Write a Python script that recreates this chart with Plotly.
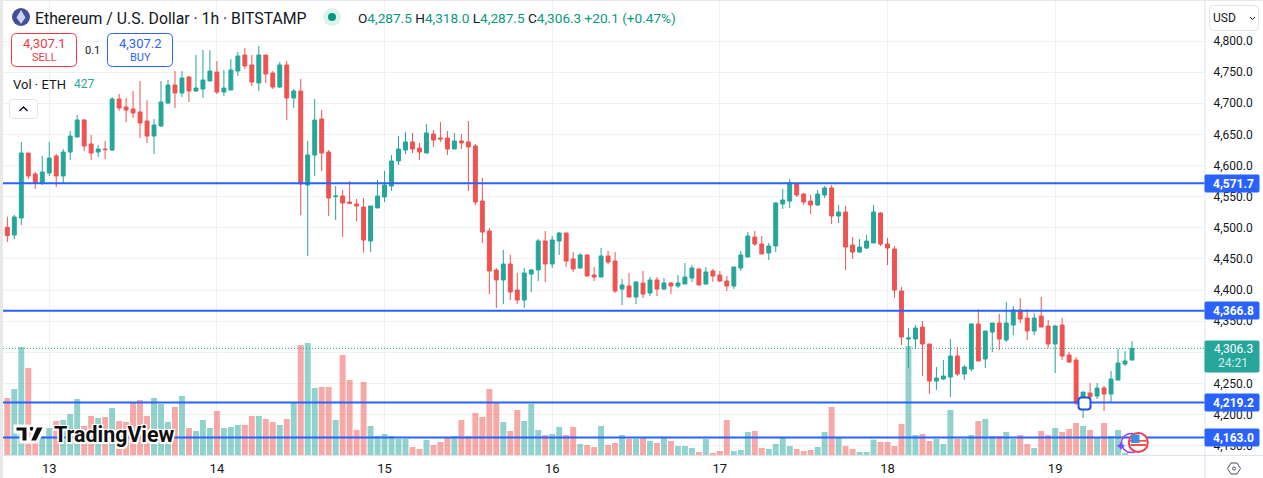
import pandas as pd
import plotly.graph_objects as go

# Hourly candles, first candle is 12 Aug 18:00
opens = [
    4500.7, 4488.4, 4515.7, 4620.1, 4586.4, 4572.4, 4588.0, 4615.3, 4583.2, 4621.7, 4645.8, 4673.1, 4634.6, 4621.7,
    4626.5, 4624.9, 4706.8, 4694.0, 4690.8, 4686.0, 4671.5, 4647.4, 4663.5, 4700.4, 4729.3, 4716.5, 4742.2, 4719.7,
    4722.9, 4735.8, 4750.2, 4718.1, 4721.3, 4751.8, 4777.5, 4761.5, 4732.6, 4777.5, 4748.6, 4726.1, 4761.5, 4708.5,
    4719.7, 4568.7, 4616.9, 4674.7, 4621.7, 4549.9, 4551.0, 4541.4, 4538.2, 4533.4, 4478.7, 4531.8, 4549.4, 4567.1,
    4607.3, 4624.9, 4637.8, 4628.1, 4620.1, 4650.6, 4644.2, 4644.2, 4626.5, 4639.4, 4637.8, 4631.4, 4543.0, 4494.8,
    4432.2, 4416.1, 4441.8, 4400.0, 4384.0, 4425.7, 4432.2, 4478.8, 4441.8, 4478.8, 4491.6, 4449.8, 4435.4, 4456.3,
    4424.1, 4420.9, 4454.7, 4446.6, 4401.6, 4406.5, 4388.8, 4411.3, 4395.2, 4416.1, 4401.6, 4411.3, 4406.5, 4409.7,
    4419.3, 4433.8, 4409.7, 4430.6, 4424.1, 4414.5, 4406.5, 4435.4, 4453.0, 4485.2, 4473.9, 4459.5, 4470.7, 4538.2,
    4543.0, 4570.3, 4554.2, 4543.0, 4536.6, 4552.6, 4563.9, 4518.9, 4525.3, 4472.3, 4461.1, 4467.5, 4475.5, 4523.7,
    4473.9, 4465.9, 4398.4, 4321.3, 4321.3, 4340.6, 4313.3, 4253.8, 4257.0, 4260.2, 4294.0, 4265.1, 4273.1, 4345.4,
    4289.2, 4332.5, 4347.0, 4319.7, 4343.8, 4367.9, 4355.0, 4334.2, 4358.2, 4342.2, 4313.3, 4343.8, 4295.6, 4287.6,
    4218.5, 4234.6, 4229.7, 4242.6, 4232.9, 4255.4, 4281.1, 4287.5,
]
highs = [
    4517.8, 4520.5, 4637.8, 4620.1, 4589.6, 4615.3, 4637.8, 4618.5, 4626.5, 4655.4, 4681.2, 4674.7, 4649.0, 4633.0,
    4639.4, 4710.1, 4714.9, 4708.5, 4719.7, 4735.8, 4705.2, 4674.7, 4735.8, 4737.4, 4751.8, 4751.8, 4743.8, 4777.5,
    4785.6, 4785.6, 4767.9, 4753.4, 4771.1, 4782.4, 4788.8, 4777.5, 4792.0, 4777.5, 4751.8, 4766.3, 4767.9, 4722.9,
    4739.0, 4639.4, 4706.8, 4689.2, 4624.9, 4567.1, 4560.7, 4575.1, 4546.2, 4547.8, 4535.0, 4576.7, 4591.2, 4616.9,
    4647.4, 4653.8, 4652.2, 4636.2, 4666.7, 4657.1, 4669.9, 4655.5, 4652.3, 4650.6, 4671.5, 4634.6, 4580.0, 4499.6,
    4435.4, 4464.3, 4456.3, 4427.3, 4435.4, 4433.8, 4482.0, 4494.8, 4486.8, 4493.2, 4491.6, 4461.1, 4459.5, 4457.9,
    4437.0, 4467.5, 4462.7, 4461.1, 4417.7, 4427.3, 4414.5, 4430.6, 4420.9, 4420.9, 4419.3, 4412.9, 4424.1, 4443.4,
    4440.2, 4433.8, 4437.0, 4433.8, 4430.6, 4422.5, 4437.0, 4462.7, 4493.2, 4494.8, 4486.8, 4475.5, 4541.4, 4562.3,
    4578.4, 4570.3, 4555.9, 4552.6, 4560.7, 4567.1, 4568.7, 4536.6, 4535.0, 4485.2, 4481.9, 4488.4, 4536.6, 4525.3,
    4483.6, 4470.7, 4404.8, 4339.0, 4343.8, 4350.2, 4313.3, 4276.3, 4287.6, 4321.3, 4308.4, 4279.5, 4347.0, 4369.5,
    4334.2, 4347.0, 4361.5, 4380.7, 4374.3, 4387.2, 4369.5, 4363.1, 4388.8, 4351.8, 4343.8, 4355.0, 4300.4, 4292.4,
    4236.2, 4250.6, 4250.6, 4245.8, 4269.9, 4305.2, 4302.0, 4318.0,
]
lows = [
    4477.1, 4481.4, 4504.4, 4578.3, 4562.3, 4568.7, 4583.2, 4565.5, 4570.3, 4608.9, 4645.8, 4623.3, 4608.9, 4613.7,
    4610.5, 4623.3, 4687.6, 4669.9, 4676.3, 4644.2, 4636.2, 4618.5, 4661.9, 4698.8, 4692.4, 4710.1, 4702.0, 4718.1,
    4708.5, 4735.8, 4714.9, 4711.7, 4721.3, 4743.8, 4755.0, 4727.7, 4719.7, 4732.6, 4722.9, 4724.5, 4673.1, 4692.4,
    4520.5, 4454.6, 4583.2, 4591.2, 4518.9, 4512.5, 4485.2, 4538.2, 4510.9, 4460.0, 4461.1, 4531.8, 4541.4, 4559.1,
    4600.8, 4618.5, 4620.1, 4608.9, 4620.1, 4629.8, 4637.8, 4616.9, 4626.5, 4626.5, 4559.1, 4536.6, 4475.5, 4393.6,
    4371.1, 4377.5, 4384.0, 4377.5, 4371.1, 4396.8, 4414.5, 4412.9, 4435.4, 4456.3, 4437.0, 4429.0, 4433.8, 4422.5,
    4414.5, 4420.9, 4441.8, 4395.2, 4375.9, 4388.8, 4377.5, 4387.2, 4390.4, 4390.4, 4400.0, 4393.6, 4403.2, 4409.7,
    4412.9, 4408.1, 4408.1, 4412.9, 4412.9, 4398.4, 4401.6, 4430.6, 4453.0, 4470.7, 4457.9, 4448.2, 4461.1, 4530.2,
    4531.8, 4549.4, 4536.6, 4522.1, 4535.0, 4547.8, 4506.1, 4507.7, 4432.1, 4449.8, 4459.5, 4465.9, 4475.5, 4470.7,
    4440.2, 4387.2, 4311.7, 4274.7, 4305.2, 4261.9, 4232.9, 4239.4, 4255.4, 4228.1, 4261.9, 4255.4, 4269.9, 4286.0,
    4274.7, 4300.4, 4303.6, 4316.5, 4327.7, 4347.0, 4319.7, 4327.7, 4340.6, 4306.8, 4266.7, 4287.6, 4282.7, 4215.3,
    4194.4, 4223.3, 4224.9, 4205.6, 4220.1, 4255.4, 4277.9, 4287.5,
]
closes = [
    4487.3, 4517.3, 4620.1, 4583.2, 4572.4, 4589.6, 4612.1, 4583.2, 4621.7, 4647.4, 4673.1, 4631.3, 4620.1, 4626.5,
    4625.5, 4706.8, 4692.4, 4689.2, 4684.4, 4668.3, 4647.4, 4665.1, 4702.0, 4729.3, 4716.5, 4740.6, 4719.7, 4724.5,
    4737.4, 4751.8, 4718.1, 4724.5, 4753.4, 4775.9, 4759.9, 4734.2, 4777.5, 4747.0, 4726.1, 4761.5, 4708.5, 4719.7,
    4570.3, 4616.9, 4673.1, 4620.1, 4547.8, 4551.0, 4539.8, 4539.2, 4535.0, 4480.3, 4535.0, 4551.0, 4568.7, 4607.3,
    4626.5, 4637.8, 4626.5, 4621.7, 4652.3, 4641.0, 4642.6, 4626.5, 4639.4, 4636.2, 4629.8, 4541.4, 4493.2, 4430.6,
    4416.1, 4441.8, 4396.8, 4384.0, 4427.3, 4432.2, 4478.8, 4441.8, 4480.4, 4491.6, 4446.6, 4433.8, 4456.3, 4422.5,
    4420.9, 4454.7, 4445.0, 4398.4, 4408.1, 4388.8, 4412.9, 4393.6, 4416.1, 4401.6, 4411.3, 4406.5, 4411.3, 4420.9,
    4435.4, 4408.1, 4429.0, 4422.5, 4414.5, 4406.5, 4437.0, 4456.3, 4486.8, 4473.9, 4457.9, 4470.7, 4539.8, 4544.6,
    4571.9, 4552.6, 4541.4, 4536.6, 4554.2, 4563.9, 4518.9, 4525.3, 4469.1, 4461.1, 4469.1, 4478.7, 4525.3, 4473.9,
    4467.5, 4400.0, 4324.5, 4322.9, 4339.0, 4313.3, 4253.8, 4258.6, 4261.9, 4294.0, 4265.1, 4276.3, 4345.4, 4286.0,
    4334.2, 4347.0, 4321.3, 4347.0, 4367.9, 4353.4, 4334.2, 4355.0, 4340.6, 4313.3, 4342.2, 4294.0, 4284.4, 4218.5,
    4236.2, 4228.7, 4242.6, 4232.9, 4257.0, 4282.7, 4286.0, 4306.3,
]
volumes = [
    24360, 28140, 45780, 36960, 11900, 8400, 11760, 14700, 15120, 17640, 23940, 12600, 16800, 15960,
    16380, 20160, 14700, 14280, 22680, 23520, 16800, 24360, 21840, 14280, 20580, 25200, 11760, 10500,
    15120, 11760, 18900, 11760, 12180, 13020, 13020, 16800, 16800, 15540, 14280, 13020, 15540, 22680,
    46620, 47460, 28560, 28980, 28980, 15120, 42420, 31920, 10920, 31080, 12600, 8400, 9240, 8400,
    7140, 7140, 3780, 2940, 6720, 4620, 5880, 7560, 8400, 15120, 8400, 18060, 16380, 28140,
    22680, 14280, 10500, 19320, 14700, 21840, 10920, 8820, 9240, 12180, 8820, 12180, 5040, 4620,
    3780, 12600, 4620, 5460, 8820, 7140, 7140, 7980, 6300, 5460, 7560, 6300, 4200, 4200,
    3360, 1680, 7140, 1260, 2100, 15120, 2100, 2520, 10080, 10500, 3360, 2940, 5040, 7560,
    4200, 2940, 2100, 2520, 3780, 10080, 20580, 7980, 4200, 2940, 1680, 1680, 6860, 5880,
    5880, 4200, 13440, 46200, 8820, 9240, 6300, 7140, 5040, 19320, 7140, 7140, 8820, 14700,
    15540, 8400, 8400, 10080, 7140, 8820, 5040, 3360, 10500, 8820, 11760, 10080, 11340, 13860,
    12600, 10920, 7560, 13860, 8400, 10920, 1260, 427,
]
levels = [4571.7, 4366.8, 4219.2, 4163.0]
last_price = 4306.3
price_ticks = [4150, 4200, 4250, 4300, 4350, 4400, 4450, 4500, 4550, 4600, 4650, 4700, 4750, 4800]

GREEN = "#26A69A"
RED = "#EF5350"
BLUE = "#2962FF"
TEXT = "#131722"
FONT = "Roboto"
GRID = "#F0F1F3"
BORDER = "#E0E3EB"
HALO = "1.5px 1.5px 0 white,-1.5px -1.5px 0 white,1.5px -1.5px 0 white,-1.5px 1.5px 0 white,0 0 3px white"

times = pd.date_range("2025-08-12 18:00", periods=len(closes), freq="h")
price_range = [4133.4, 4865.9]
x_range = [times[0] - pd.Timedelta(hours=0.62), times[0] + pd.Timedelta(hours=171.45)]
vol_colors = ["rgba(38,166,154,0.5)" if c >= o else "rgba(239,83,80,0.5)" for o, c in zip(opens, closes)]


# chrome around the chart is placed in screen pixels
def px(x):
    return (x - 3) / 1202


def py(y):
    return 1 - y / 456


def rounded(x0, y0, x1, y1, r, line, fill="white", width=1):
    d = (
        f"M{px(x0 + r)},{py(y0)} L{px(x1 - r)},{py(y0)} Q{px(x1)},{py(y0)} {px(x1)},{py(y0 + r)} "
        f"L{px(x1)},{py(y1 - r)} Q{px(x1)},{py(y1)} {px(x1 - r)},{py(y1)} "
        f"L{px(x0 + r)},{py(y1)} Q{px(x0)},{py(y1)} {px(x0)},{py(y1 - r)} "
        f"L{px(x0)},{py(y0 + r)} Q{px(x0)},{py(y0)} {px(x0 + r)},{py(y0)} Z"
    )
    return dict(type="path", xref="paper", yref="paper", path=d, fillcolor=fill, line=dict(color=line, width=width))


def poly(points, fill=None, line=None, width=1):
    d = "M" + " L".join(f"{px(x)},{py(y)}" for x, y in points)
    if fill:
        d += " Z"
    return dict(type="path", xref="paper", yref="paper", path=d, fillcolor=fill or "rgba(0,0,0,0)",
                line=dict(color=line or "rgba(0,0,0,0)", width=width))


def circle(cx, cy, r, fill="rgba(0,0,0,0)", line=None, width=1):
    return dict(type="circle", xref="paper", yref="paper", x0=px(cx - r), x1=px(cx + r), y0=py(cy + r), y1=py(cy - r),
                fillcolor=fill, line=dict(color=line or "rgba(0,0,0,0)", width=width))


def block(x0, y0, x1, y1, fill):
    return dict(type="rect", xref="paper", yref="paper", x0=px(x0), x1=px(x1), y0=py(y1), y1=py(y0),
                fillcolor=fill, line_width=0)


def label(x, y, text, size=12, color=TEXT, anchor="left", shadow=None):
    font = dict(family=FONT, size=size, color=color)
    if shadow:
        font["shadow"] = shadow
    return dict(xref="paper", yref="paper", x=px(x), y=py(y), text=text, showarrow=False, xanchor=anchor,
                yanchor="middle", borderpad=0, font=font)


fig = go.Figure()
fig.add_trace(go.Bar(x=times, y=volumes, marker=dict(color=vol_colors, line=dict(width=0))))
fig.add_trace(go.Candlestick(
    x=times, open=opens, high=highs, low=lows, close=closes, yaxis="y2", whiskerwidth=0,
    increasing=dict(line=dict(color=GREEN, width=1), fillcolor=GREEN),
    decreasing=dict(line=dict(color=RED, width=1), fillcolor=RED),
))

shapes = []
# last price and the horizontal levels
shapes.append(dict(type="line", xref="paper", yref="y2", x0=0, x1=1, y0=last_price, y1=last_price,
                   line=dict(color=GREEN, width=1, dash="1px,2px")))
for lv in levels:
    shapes.append(dict(type="line", xref="paper", yref="y2", x0=0, x1=1, y0=lv, y1=lv, line=dict(color=BLUE, width=2)))

# frame
shapes += [
    block(0, 0, 3, 478, "#E8E8E8"),
    poly([(3, 0.5), (1263, 0.5)], line="#E8E8E8"),
    poly([(1205, 0), (1205, 478)], line=BORDER),
    poly([(3, 455.5), (1263, 455.5)], line=BORDER),
]

# header icons
shapes += [
    circle(21, 17, 9, fill="#414F95"),
    poly([(21, 10), (25.5, 17.5), (21, 24), (16.5, 17.5)], fill="#C9D3F2"),
    circle(332, 17, 9, fill="#DDF3EE"),
    circle(332, 17, 4, fill="#089981"),
    rounded(11.5, 33.5, 76.5, 66.5, 5, "#F23645"),
    rounded(107.5, 33.5, 172.5, 66.5, 5, BLUE),
    rounded(9.5, 99.5, 37.5, 118.5, 3, BORDER),
    poly([(19.5, 111), (23.5, 107), (27.5, 111)], line=TEXT, width=1.5),
    # currency dropdown
    rounded(1209.5, 5.5, 1258.5, 30.5, 4, BORDER),
    poly([(1250, 17), (1252.5, 19.5), (1255, 17)], line=TEXT, width=1),
    # gear button
    poly([(1227.5, 468.5), (1231, 463), (1237, 463), (1240.5, 468.5), (1237, 474), (1231, 474)], fill="white", line="#4A4E59"),
    circle(1234, 468.5, 1.5, fill="white", line="#4A4E59"),
    # price axis badges
    rounded(1205, 341, 1259, 372, 1, GREEN, fill=GREEN),
    rounded(1205, 175, 1259, 192, 1, BLUE, fill=BLUE),
    rounded(1205, 302, 1259, 319, 1, BLUE, fill=BLUE),
    rounded(1205, 394, 1259, 411, 1, BLUE, fill=BLUE),
    rounded(1205, 429, 1259, 446, 1, BLUE, fill=BLUE),
    # TradingView mark
    poly([(15, 426), (28, 426), (28, 442), (21, 442), (21, 432), (15, 432)], fill="#0F0F0F", line="white", width=3),
    circle(31.7, 428.7, 3, fill="#0F0F0F", line="white", width=2),
    poly([(36, 426), (45, 426), (37, 442), (29, 442)], fill="#0F0F0F", line="white", width=3),
    # marker on the low
    rounded(1078.5, 397.5, 1090.5, 409.5, 3, "#1E53E5", width=2),
    # flag badge bottom right
    circle(1131, 443, 9.5, line="#9C3FE0", width=1.5),
    circle(1138.3, 442.5, 9.5, fill="white", line="#F0404A", width=2),
    block(1130, 440, 1146.5, 441.7, "#F0524F"),
    block(1130.5, 444, 1146, 446, "#F0524F"),
    block(1131, 434.5, 1139.5, 443, "#3F8FE0"),
]

ohlc = (
    "O<span style='color:#089981'>4,287.5 </span>H<span style='color:#089981'>4,318.0 </span>"
    "L<span style='color:#089981'>4,287.5 </span>C<span style='color:#089981'>4,306.3 +20.1 (+0.47%)</span>"
)
annotations = [
    label(34, 18, "Ethereum / U.S. Dollar · 1h · BITSTAMP", size=15.8),
    label(357, 18, ohlc, size=13.6),
    label(44, 43, "4,307.1", size=13, color="#F23645", anchor="center"),
    label(44, 57, "SELL", size=11, color="#F23645", anchor="center"),
    label(140, 43, "4,307.2", size=13, color=BLUE, anchor="center"),
    label(140, 57, "BUY", size=11, color=BLUE, anchor="center"),
    label(92, 50, "0.1", size=11, anchor="center"),
    label(12, 84, "Vol · ETH", size=13),
    label(73, 84, "427", size=12, color=GREEN),
    label(1212, 18, "USD", size=12),
    label(1233, 349, "4,306.3", size=12, color="white", anchor="center"),
    label(1233, 363, "24:21", size=12, color="#D4EEEB", anchor="center"),
    label(53, 434, "<b>TradingView</b>", size=21.4, color="#0F0F0F", shadow=HALO),
    label(1120.5, 446, "✦", size=14, color="#7C4DFF", anchor="center"),
]
for lv, y in zip(levels, [183.5, 311, 403, 438]):
    annotations.append(label(1233, y, f"<b>{lv:,.1f}</b>", size=12, color="white", anchor="center"))

fig.update_layout(
    width=1263, height=478,
    margin=dict(l=3, r=58, t=0, b=22, autoexpand=False),
    paper_bgcolor="white", plot_bgcolor="white",
    showlegend=False, bargap=0.15, boxgap=0.2, boxgroupgap=0.3,
    font=dict(family=FONT, size=12, color=TEXT),
    xaxis=dict(type="date", range=x_range, rangeslider=dict(visible=False), showgrid=True, gridcolor=GRID,
               dtick=86400000, tickformat="%-d", ticklen=0, zeroline=False, showline=False, ticklabelstandoff=3,
               tickfont=dict(family=FONT, size=13, color=TEXT)),
    yaxis=dict(range=[0, 191520], showticklabels=False, showgrid=False, zeroline=False, ticks=""),
    yaxis2=dict(range=price_range, overlaying="y", side="right", tickvals=price_ticks, tickformat=",.1f",
                showgrid=True, gridcolor=GRID, zeroline=False, ticks="outside", ticklen=5, tickcolor="rgba(0,0,0,0)",
                tickfont=dict(family=FONT, size=12, color=TEXT)),
    shapes=shapes,
    annotations=annotations,
)

fig.write_html("out.html", config={"displayModeBar": False}, post_script="document.body.style.margin='0';")
